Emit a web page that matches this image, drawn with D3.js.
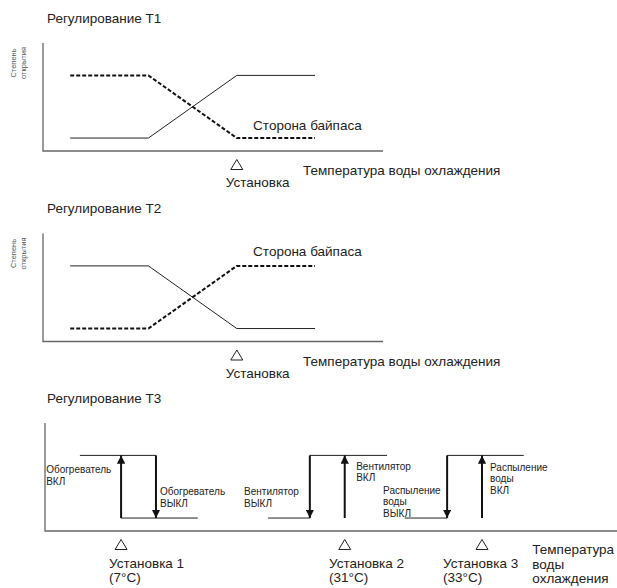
<!DOCTYPE html>
<meta charset="utf-8">
<script src="https://d3js.org/d3.v7.min.js"></script>
<style>
  body { margin: 0; background: #fff; }
  text { font-family: "Liberation Sans", Arial, sans-serif; fill: #222; }
</style>
<div id="my_dataviz"></div>
<script>

// T1 / T2: valve opening vs. cooling water temperature (abstract units 0..100)
var curveX = [8, 31, 57, 80];
var t1Main = [12, 12, 70, 70];     // solid
var t1Bypass = [70, 70, 12, 12];   // dashed
var t2Main = [70, 70, 12, 12];
var t2Bypass = [12, 12, 70, 70];
var setpointX = 57;

// T3: on/off steps
var t3Setpoints = [13.3, 52.4, 76.4];
var t3LabelX = [11.2, 49.65, 69.6];
var t3SetLabels = [["Установка 1", "(7°C)"], ["Установка 2", "(31°C)"], ["Установка 3", "(33°C)"]];
// horizontal segments [x1, x2, level]
var t3Segments = [
  [6.1, 19.4, 70], [13.3, 26.7, 12],
  [39, 46.3, 12], [46.3, 59.8, 70],
  [62.9, 70.3, 12], [70.3, 83.7, 70]
];
// arrows [x, from, to]
var t3Arrows = [
  [13.3, 12, 70], [19.4, 70, 12],
  [46.3, 70, 12], [52.4, 12, 70],
  [70.3, 70, 12], [76.4, 12, 70]
];
var t3Notes = [
  [0.2, 53.7, ["Обогреватель", "ВКЛ"]],
  [20.1, 33.3, ["Обогреватель", "ВЫКЛ"]],
  [34.8, 33.3, ["Вентилятор", "ВЫКЛ"]],
  [54.4, 56.5, ["Вентилятор", "ВКЛ"]],
  [59.1, 34.3, ["Распыление", "воды", "ВЫКЛ"]],
  [77.8, 55.6, ["Распыление", "воды", "ВКЛ"]]
];

var FS = "13.5px";

var svg = d3.select("#my_dataviz").append("svg")
  .attr("width", 617).attr("height", 588);

svg.append("defs").append("marker")
  .attr("id", "arr")
  .attr("viewBox", "0 0 10 10")
  .attr("refX", 10).attr("refY", 5)
  .attr("markerWidth", 4.2).attr("markerHeight", 4.2)
  .attr("markerUnits", "strokeWidth")
  .attr("orient", "auto")
  .append("path").attr("d", "M0,0L10,5L0,10Z").attr("fill", "#111");

function triangle(g, cx, top) {
  g.append("path")
    .attr("d", d3.line()([[cx, top], [cx - 6, top + 10], [cx + 6, top + 10], [cx, top]]))
    .attr("fill", "none").attr("stroke", "#222").attr("stroke-width", 1);
}

function yTitle(g, x, y) {
  var t = g.append("text")
    .attr("transform", "translate(" + x + "," + y + ") rotate(-90)")
    .attr("text-anchor", "middle")
    .style("font-size", "7.5px").style("fill", "#555");
  t.append("tspan").attr("x", 0).attr("dy", 0).text("Степень");
  t.append("tspan").attr("x", 0).attr("dy", 10.5).text("открытия");
}

function drawCurves(top, titleY, title, main, bypass, bypassLabelY) {
  var g = svg.append("g");
  var x = d3.scaleLinear().domain([0, 100]).range([43, 383]);
  var y = d3.scaleLinear().domain([0, 100]).range([top + 108, top]);

  g.append("text").attr("x", 47).attr("y", titleY)
    .style("font-size", FS).text(title);
  yTitle(g, 15.5, top + 20);

  g.append("path")
    .attr("d", d3.line()([[x(0), y(100)], [x(0), y(0)], [x(100), y(0)]]))
    .attr("fill", "none").attr("stroke", "#666").attr("stroke-width", 1.3);

  var line = d3.line().x(function(d, i) { return x(curveX[i]); }).y(function(d) { return y(d); });
  g.append("path").attr("d", line(main))
    .attr("fill", "none").attr("stroke", "#222").attr("stroke-width", 1);
  g.append("path").attr("d", line(bypass))
    .attr("fill", "none").attr("stroke", "#111").attr("stroke-width", 2)
    .attr("stroke-dasharray", "4,2");

  g.append("text").attr("x", x(61.8)).attr("y", bypassLabelY)
    .style("font-size", FS).text("Сторона байпаса");

  triangle(g, x(setpointX), y(0) + 8.5);
  g.append("text").attr("x", x(setpointX) - 11).attr("y", y(0) + 36)
    .style("font-size", FS).text("Установка");
  g.append("text").attr("x", x(76.5)).attr("y", y(0) + 24)
    .style("font-size", FS).text("Температура воды охлаждения");
}

drawCurves(43, 23, "Регулирование Т1", t1Main, t1Bypass, 130);
drawCurves(233.5, 213, "Регулирование Т2", t2Main, t2Bypass, 256);

// T3
(function() {
  var g = svg.append("g");
  var top = 423;
  var x = d3.scaleLinear().domain([0, 100]).range([45, 617]);
  var y = d3.scaleLinear().domain([0, 100]).range([top + 108, top]);

  g.append("text").attr("x", 47).attr("y", 403)
    .style("font-size", FS).text("Регулирование Т3");

  g.append("path")
    .attr("d", d3.line()([[x(0), y(100)], [x(0), y(0)], [x(100), y(0)]]))
    .attr("fill", "none").attr("stroke", "#666").attr("stroke-width", 1.3);

  g.selectAll(".seg").data(t3Segments).enter().append("line")
    .attr("x1", function(d) { return x(d[0]); })
    .attr("x2", function(d) { return x(d[1]); })
    .attr("y1", function(d) { return y(d[2]); })
    .attr("y2", function(d) { return y(d[2]); })
    .attr("stroke", "#222").attr("stroke-width", 1);

  g.selectAll(".arrow").data(t3Arrows).enter().append("line")
    .attr("x1", function(d) { return x(d[0]); })
    .attr("x2", function(d) { return x(d[0]); })
    .attr("y1", function(d) { return y(d[1]); })
    .attr("y2", function(d) { return y(d[2]); })
    .attr("stroke", "#111").attr("stroke-width", 2)
    .attr("marker-end", "url(#arr)");

  t3Notes.forEach(function(n) {
    var t = g.append("text").attr("x", x(n[0])).attr("y", y(n[1]))
      .style("font-size", "10px");
    n[2].forEach(function(s, i) {
      t.append("tspan").attr("x", x(n[0])).attr("dy", i === 0 ? 0 : 11.5).text(s);
    });
  });

  t3Setpoints.forEach(function(s, i) {
    triangle(g, x(s), y(0) + 8.5);
    g.append("text").attr("x", x(t3LabelX[i])).attr("y", y(0) + 37)
      .style("font-size", FS).text(t3SetLabels[i][0]);
    g.append("text").attr("x", x(t3LabelX[i])).attr("y", y(0) + 51)
      .style("font-size", FS).text(t3SetLabels[i][1]);
  });

  var tt = g.append("text").attr("x", x(85.2)).attr("y", y(0) + 23)
    .style("font-size", FS);
  ["Температура", "воды", "охлаждения"].forEach(function(s, i) {
    tt.append("tspan").attr("x", x(85.2)).attr("dy", i === 0 ? 0 : 14.5).text(s);
  });
})();

</script>
